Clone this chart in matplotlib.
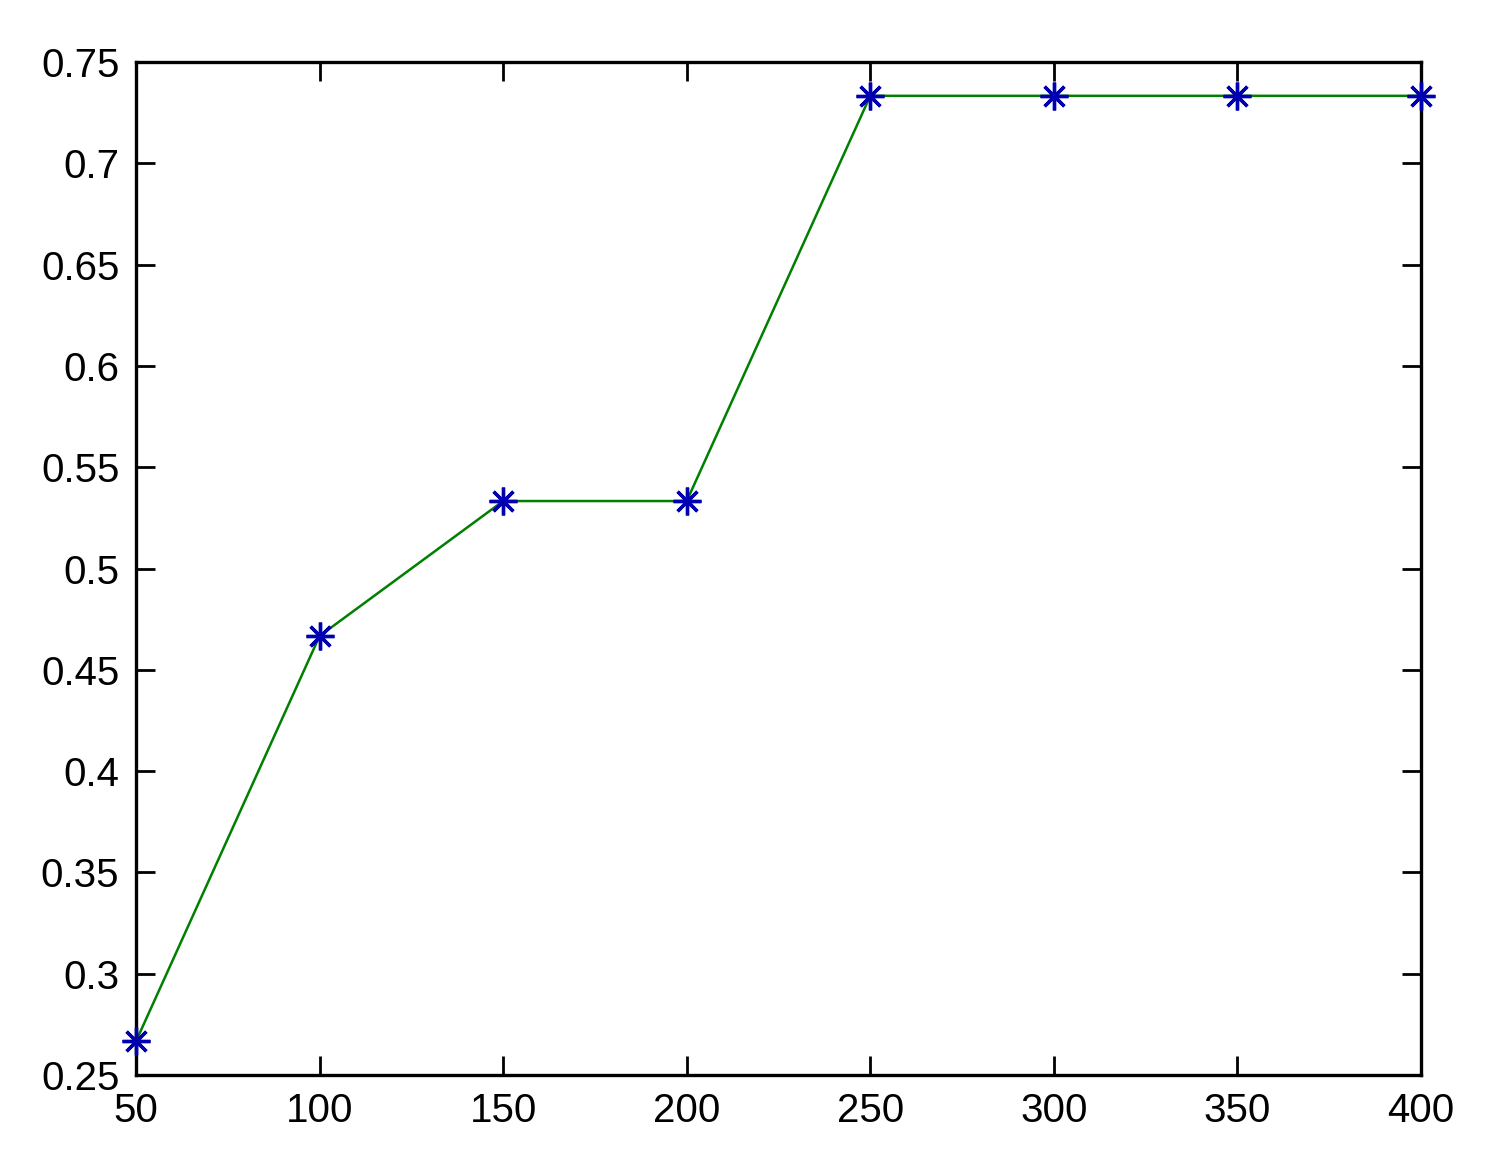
import matplotlib
matplotlib.use('Agg')
import matplotlib.pyplot as plt

# sample sizes and accuracy values
x_vals = [50, 100, 150, 200, 250, 300, 350, 400]
y_vals = [0.2667, 0.4667, 0.5333, 0.5333, 0.7333, 0.7333, 0.7333, 0.7333]
x_ticks = [50, 100, 150, 200, 250, 300, 350, 400]
y_ticks = [0.25, 0.3, 0.35, 0.4, 0.45, 0.5, 0.55, 0.6, 0.65, 0.7, 0.75]

plt.rcParams['font.family'] = ['Liberation Sans', 'DejaVu Sans']

fig = plt.figure(figsize=(14.9, 11.52), dpi=100)
ax = fig.add_axes([0.0913, 0.0668, 0.8624, 0.8794])

ax.plot(x_vals, y_vals, color='#007f00', linewidth=1.8, zorder=2)
ax.plot(x_vals, y_vals, linestyle='none', marker=(8, 2, 0), markersize=20,
        markeredgewidth=2.4, color='#0000b0', zorder=3, clip_on=False)

ax.set_xlim(50, 400)
ax.set_ylim(0.25, 0.75)
ax.set_xticks(x_ticks)
ax.set_yticks(y_ticks)
ax.set_xticklabels([str(v) for v in x_ticks])
ax.set_yticklabels(['%g' % v for v in y_ticks])

ax.tick_params(direction='in', length=14, width=2, labelsize=29,
               top=True, right=True)
ax.tick_params(axis='y', pad=12)
ax.tick_params(axis='x', pad=12)
for s in ax.spines.values():
    s.set_linewidth(2.4)

fig.savefig('out.png', dpi=100)
